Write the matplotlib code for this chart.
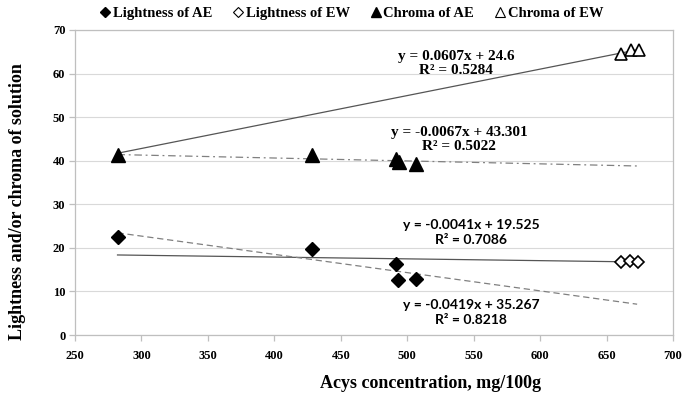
import matplotlib
matplotlib.use('Agg')
import matplotlib.pyplot as plt
from matplotlib.lines import Line2D
import numpy as np

# data
x_light_ae = [282, 428.5, 491.5, 493, 506.5]
light_ae = [22.6, 19.7, 16.2, 12.7, 12.8]
x_light_ew = [661, 667.5, 674]
light_ew = [16.8, 16.9, 16.8]
x_chroma_ae = [282, 428.5, 491.5, 493.5, 506.5]
chroma_ae = [41.2, 41.3, 40.3, 39.8, 39.2]
x_chroma_ew = [661, 668.5, 674.5]
chroma_ew = [64.4, 65.3, 65.4]

# trend lines: (slope, intercept, style, label text, text position)
trend_x = [282, 673]
trends = [
    (0.0607, 24.6, '-', 'y = 0.0607x + 24.6\nR² = 0.5284', (537, 62.3), 'serif'),
    (-0.0067, 43.301, 'dashdot', 'y = -0.0067x + 43.301\nR² = 0.5022', (539, 44.9), 'serif'),
    (-0.0041, 19.525, '-', 'y = -0.0041x + 19.525\nR² = 0.7086', (548, 23.5), 'sans'),
    (-0.0419, 35.267, '--', 'y = -0.0419x + 35.267\nR² = 0.8218', (548, 5.1), 'sans'),
]

serif = 'Liberation Serif'
sans = 'Lato'

fig = plt.figure(figsize=(6.94, 4.01), dpi=100)
ax = fig.add_axes([75 / 694, 1 - 335 / 401, (673 - 75) / 694, (335 - 30) / 401])

tx = np.array(trend_x)
for slope, icpt, ls, txt, pos, fam in trends:
    if ls == 'dashdot':
        ax.plot(tx, slope * tx + icpt, color='#808080', lw=0.9, dashes=(6, 3, 1.5, 3), zorder=2)
    elif ls == '--':
        ax.plot(tx, slope * tx + icpt, color='#808080', lw=0.9, dashes=(5, 3), zorder=2)
    else:
        ax.plot(tx, slope * tx + icpt, color='#555555', lw=0.9, zorder=2)
    if fam == 'serif':
        ax.text(pos[0], pos[1], txt, ha='center', va='center', fontsize=11,
                fontweight='bold', family=serif, linespacing=1.15)
    else:
        ax.text(pos[0], pos[1], txt, ha='center', va='center', fontsize=10,
                fontweight='bold', family=sans, linespacing=1.3)

ax.plot(x_light_ae, light_ae, 'D', color='black', ms=7.5, ls='none', zorder=3)
ax.plot(x_light_ew, light_ew, 'D', mfc='white', mec='black', mew=1.2, ms=6.5, ls='none', zorder=3)
ax.plot(x_chroma_ae, chroma_ae, '^', color='black', ms=9.5, ls='none', zorder=3)
ax.plot(x_chroma_ew, chroma_ew, '^', mfc='white', mec='black', mew=1.2, ms=8, ls='none', zorder=3)

ax.set_xlim(250, 700)
ax.set_ylim(0, 70)
ax.set_xticks(range(250, 701, 50))
ax.set_yticks(range(0, 71, 10))
ax.grid(axis='y', color='#d9d9d9', lw=0.8)
ax.set_axisbelow(True)
for s in ax.spines.values():
    s.set_color('#bfbfbf')
    s.set_linewidth(0.9)
ax.tick_params(axis='both', color='#bfbfbf', length=4, width=0.9, pad=3)
for lab in ax.get_xticklabels() + ax.get_yticklabels():
    lab.set_family(serif)
    lab.set_fontweight('bold')
    lab.set_fontsize(9)
ax.tick_params(axis='x', pad=7)
ax.set_xlabel('Acys concentration, mg/100g', family=serif, fontweight='bold', fontsize=13)
ax.set_ylabel('Lightness and/or chroma of solution', family=serif, fontweight='bold', fontsize=13)
ax.xaxis.set_label_coords((431 - 75) / 598, -(383 - 335) / 305)
ax.yaxis.set_label_coords((18 - 75) / 598, (335 - 202) / 305)
ax.xaxis.label.set_va('center')
ax.yaxis.label.set_va('center')

handles = [
    Line2D([], [], marker='D', color='black', ls='none', ms=5),
    Line2D([], [], marker='D', mfc='white', mec='black', mew=0.8, ls='none', ms=5),
    Line2D([], [], marker='^', color='black', ls='none', ms=7),
    Line2D([], [], marker='^', mfc='white', mec='black', mew=0.8, ls='none', ms=7),
]
labels = ['Lightness of AE', 'Lightness of EW', 'Chroma of AE', 'Chroma of EW']
fig.legend(handles, labels, loc='center', bbox_to_anchor=(352 / 694, 1 - 13 / 401), ncol=4,
           frameon=False, handlelength=0.6, handletextpad=0.2, columnspacing=1.5,
           prop={'family': serif, 'weight': 'bold', 'size': 10.5})

fig.savefig('out.png', dpi=100)
